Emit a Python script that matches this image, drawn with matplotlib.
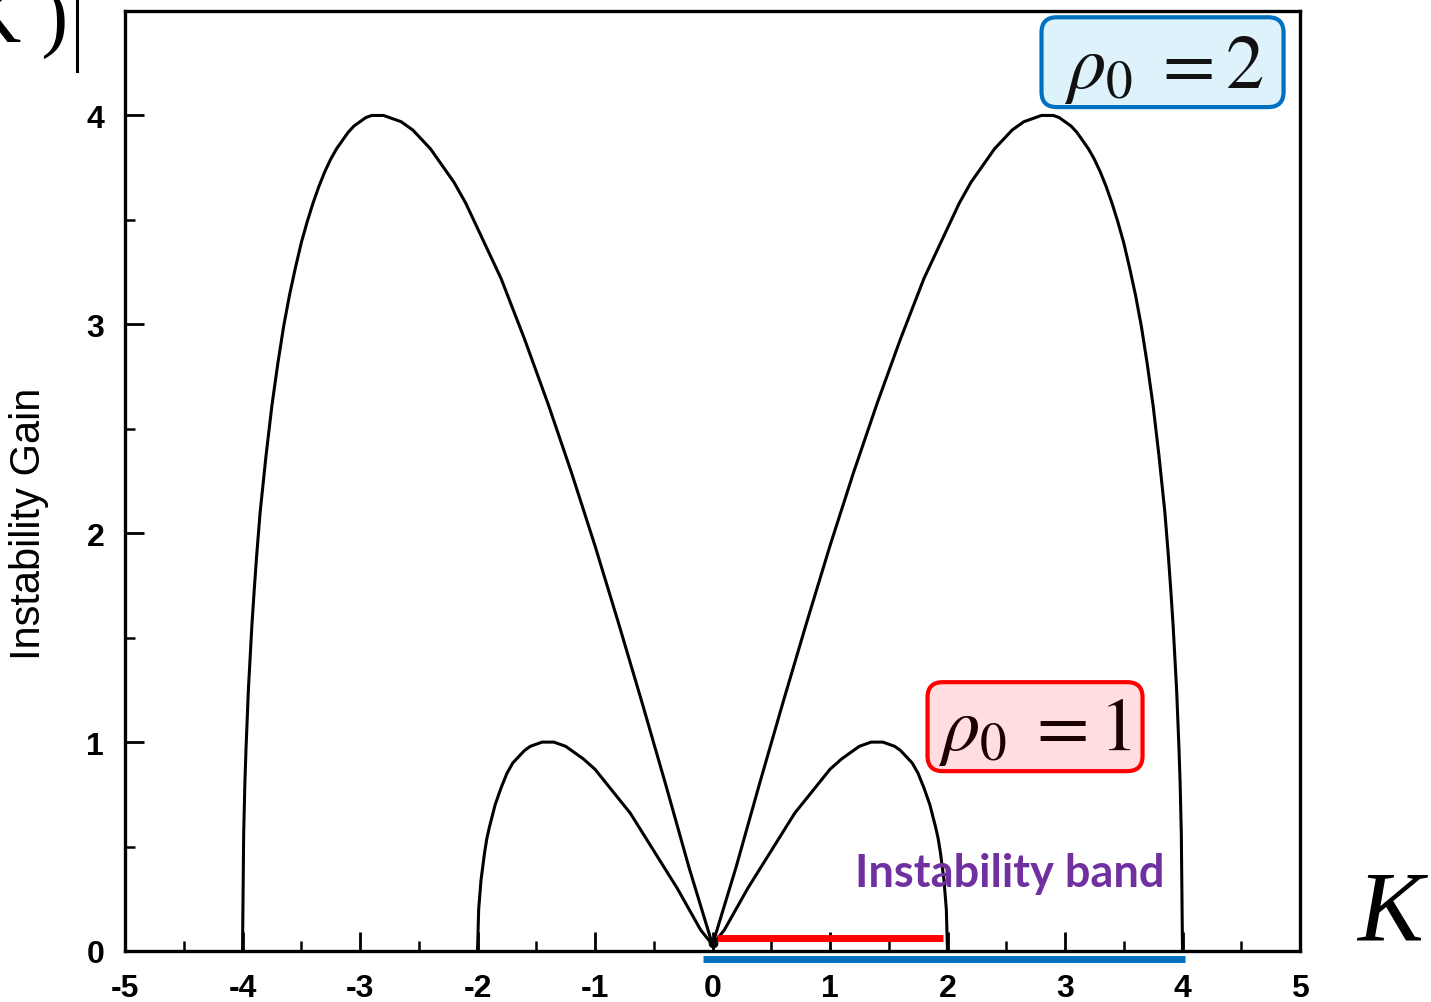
import numpy as np
import matplotlib.pyplot as plt
from matplotlib.patches import FancyBboxPatch
from matplotlib.lines import Line2D

plt.rcParams['font.family'] = ['Liberation Sans', 'DejaVu Sans']
plt.rcParams['axes.unicode_minus'] = False
plt.rcParams['mathtext.fontset'] = 'stix'

# ---------------- data ----------------
# |K| and gain for rho0 = 2 (curve is mirrored to negative K)
k_rho2 = [0.0, 0.2, 0.4, 0.6, 0.8, 1.0, 1.2, 1.4, 1.6, 1.8, 2.0, 2.1, 2.2, 2.3,
          2.4, 2.45, 2.5, 2.55, 2.6, 2.65, 2.7, 2.75, 2.8, 2.85, 2.9, 2.95, 3.0,
          3.05, 3.1, 3.15, 3.2, 3.25, 3.3, 3.35, 3.4, 3.45, 3.5, 3.55, 3.6, 3.65,
          3.7, 3.75, 3.8, 3.85, 3.88, 3.9, 3.92, 3.95, 3.97, 3.98, 3.99, 4.0]
g_rho2 = [0.03, 0.40, 0.80, 1.19, 1.57, 1.94, 2.29, 2.62, 2.93, 3.22, 3.46, 3.58,
          3.68, 3.76, 3.84, 3.87, 3.90, 3.93, 3.95, 3.97, 3.98, 3.99, 4.00, 4.00,
          4.00, 3.99, 3.97, 3.95, 3.92, 3.88, 3.84, 3.79, 3.73, 3.66, 3.58, 3.49,
          3.39, 3.27, 3.14, 2.99, 2.81, 2.61, 2.37, 2.10, 1.89, 1.73, 1.56, 1.25,
          0.97, 0.80, 0.56, 0.0]

# |K| and gain for rho0 = 1
k_rho1 = [0.0, 0.1, 0.2, 0.3, 0.4, 0.5, 0.6, 0.7, 0.8, 0.9, 1.0, 1.1, 1.2, 1.25,
          1.3, 1.35, 1.4, 1.45, 1.5, 1.55, 1.6, 1.65, 1.7, 1.75, 1.8, 1.85, 1.9,
          1.92, 1.94, 1.97, 1.99, 2.0]
g_rho1 = [0.03, 0.10, 0.20, 0.30, 0.39, 0.48, 0.57, 0.66, 0.73, 0.80, 0.87, 0.92,
          0.96, 0.98, 0.99, 1.00, 1.00, 1.00, 0.99, 0.98, 0.96, 0.93, 0.90, 0.85,
          0.78, 0.70, 0.59, 0.54, 0.47, 0.34, 0.20, 0.0]

# instability bands (K from, K to, level)
band_rho1 = [0.04, 1.96]
band_rho1_level = 0.06
band_rho2 = [-0.08, 4.02]
band_rho2_level = -0.04

x_ticks = [-5, -4, -3, -2, -1, 0, 1, 2, 3, 4, 5]
y_ticks = [0, 1, 2, 3, 4]

# ---------------- figure ----------------
fig = plt.figure(figsize=(14.31, 10.03), dpi=100)
ax = fig.add_axes([125 / 1431, 51 / 1003, 1175 / 1431, 940 / 1003])

for sign in (-1, 1):
    ax.plot(sign * np.array(k_rho2), g_rho2, color='black', lw=2.2)
    ax.plot(sign * np.array(k_rho1), g_rho1, color='black', lw=2.2)
ax.plot([0], [0.04], 'o', color='black', ms=6)

ax.plot(band_rho1, [band_rho1_level] * 2, color='#FF0000', lw=5,
        solid_capstyle='butt', zorder=4)
ax.plot(band_rho2, [band_rho2_level] * 2, color='#0070C0', lw=5,
        solid_capstyle='butt', clip_on=False, zorder=4)

ax.set_xlim(-5, 5)
ax.set_ylim(0, 4.5)
ax.set_xticks(x_ticks)
ax.set_xticks(np.arange(-5, 5.01, 0.5), minor=True)
ax.set_yticks(y_ticks)
ax.set_yticks(np.arange(0, 4.51, 0.5), minor=True)
ax.tick_params(which='major', direction='in', length=14, width=2, labelsize=23)
ax.tick_params(which='minor', direction='in', length=7, width=1.8)
ax.tick_params(axis='x', which='major', pad=16)
ax.tick_params(axis='y', which='major', pad=15)
for lab in ax.get_xticklabels() + ax.get_yticklabels():
    lab.set_fontweight('bold')
for sp in ax.spines.values():
    sp.set_linewidth(2.4)

# y label
fig.text(29 / 1431, 1 - 524 / 1003, 'Instability Gain', rotation=90,
         ha='center', va='center', fontsize=30)

# rho0 boxes
asp = (1 / 209) / (1 / 117.5)
box2 = FancyBboxPatch((2.80, 4.04), 2.06, 0.43,
                      boxstyle='round,pad=0,rounding_size=0.13',
                      mutation_aspect=asp, fc='#DDF2FA', ec='#0070C0', lw=3,
                      clip_on=False, zorder=5)
ax.add_patch(box2)
ax.text(3.84, 4.134, r'$\rho_0\;=2$', ha='center', va='baseline',
        fontsize=55, color='#111111', zorder=6)

box1 = FancyBboxPatch((1.83, 0.861), 1.83, 0.426,
                      boxstyle='round,pad=0,rounding_size=0.13',
                      mutation_aspect=asp, fc='#FFDDE0', ec='#FF0000', lw=3,
                      clip_on=False, zorder=5)
ax.add_patch(box1)
ax.text(2.74, 0.967, r'$\rho_0\;=1$', ha='center', va='baseline',
        fontsize=55, color='#1a0000', zorder=6)

ax.text(2.53, 0.372, 'Instability band', ha='center', va='center',
        fontsize=32.5, fontweight='bold', color='#7030A0', family='Lato', zorder=6)

# K axis label and cut-off label at top left
fig.text(1390 / 1431, 1 - 940 / 1003, 'K', family='Liberation Serif',
         style='italic', fontsize=71, ha='center', va='baseline')
fig.text(68 / 1431, 1 - 43 / 1003, 'g(K )', family='Liberation Serif',
         fontsize=58, ha='right', va='baseline')
fig.add_artist(Line2D([76.5 / 1431] * 2, [1, 1 - 72 / 1003],
                      transform=fig.transFigure, color='black', lw=2.2))

fig.savefig('out.png', dpi=100)
